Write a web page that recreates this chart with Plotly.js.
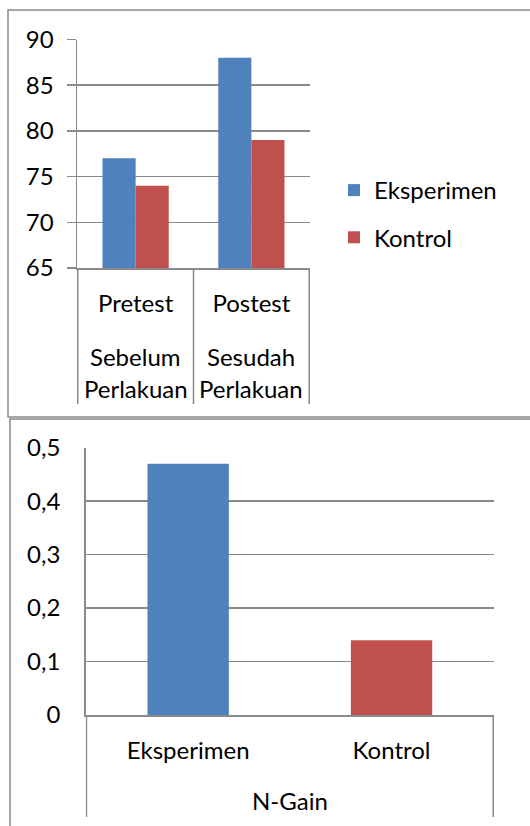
<!DOCTYPE html>
<html>
<head>
<meta charset="utf-8">
<script src="https://cdn.plot.ly/plotly-3.0.1.min.js"></script>
<style>html,body{margin:0;padding:0;background:#fff;}#chart{width:530px;height:826px;}</style>
</head>
<body>
<div id="chart"></div>
<script>
// ---- data ----
const testCategories = ["Pretest", "Postest"];
const testSubLabels = ["Sebelum Perlakuan", "Sesudah Perlakuan"];
const seriesNames = ["Eksperimen", "Kontrol"];
const eksperimenScores = [77, 88];
const kontrolScores = [74, 79];
const gainCategories = ["Eksperimen", "Kontrol"];
const gainValues = [0.47, 0.14];
const gainTitle = "N-Gain";

// ---- style ----
const W = 530, H = 826;
const px = v => v / W;
const py = v => 1 - v / H;
const BLUE = "#4F81BD", RED = "#C0504D";
const GRAY = "#8a8a8a";
const FONT = "Lato, 'Open Sans', sans-serif";
const FS = 24;

const traces = [
  { type: "bar", name: seriesNames[0], x: testCategories, y: eksperimenScores,
    marker: { color: BLUE }, xaxis: "x", yaxis: "y", legendgroup: "a" },
  { type: "bar", name: seriesNames[1], x: testCategories, y: kontrolScores,
    marker: { color: RED }, xaxis: "x", yaxis: "y", legendgroup: "b" },
  { type: "bar", name: gainTitle, x: gainCategories, y: gainValues,
    marker: { color: [BLUE, RED] }, width: 0.4, xaxis: "x2", yaxis: "y2", showlegend: false }
];

const annotations = [];
testSubLabels.forEach((lab, i) => {
  lab.split(" ").forEach((line, j) => {
    annotations.push({ xref: "x", yref: "paper", x: testCategories[i], y: py(356 + 32 * j),
      text: line, showarrow: false, xanchor: "center", yanchor: "middle",
      font: { family: FONT, size: FS, color: "#000" } });
  });
});
annotations.push({ xref: "x2 domain", yref: "paper", x: 0.5, y: py(800), text: gainTitle,
  showarrow: false, xanchor: "center", yanchor: "middle", font: { family: FONT, size: FS, color: "#000" } });

const lineStyle = { color: GRAY, width: 1.5 };
const shapes = [
  { type: "rect", xref: "paper", yref: "paper", x0: px(8), x1: 1.02, y0: py(417), y1: py(10), line: lineStyle },
  { type: "rect", xref: "paper", yref: "paper", x0: px(10), x1: 1.02, y0: -0.02, y1: py(419), line: lineStyle }
];
[-0.5, 0.5, 1.5].forEach(xv => shapes.push({ type: "line", xref: "x", yref: "paper",
  x0: xv, x1: xv, y0: py(404), y1: py(268), line: lineStyle }));
[-0.5, 1.5].forEach(xv => shapes.push({ type: "line", xref: "x2", yref: "paper",
  x0: xv, x1: xv, y0: py(817), y1: py(715), line: lineStyle }));

const layout = {
  width: W, height: H,
  margin: { l: 0, r: 0, t: 0, b: 0 },
  paper_bgcolor: "#fff", plot_bgcolor: "#fff",
  font: { family: FONT, size: FS, color: "#000" },
  separators: ",.",
  barmode: "group", bargap: 0.428, bargroupgap: 0,
  showlegend: true,
  legend: { x: px(334), y: py(214), xanchor: "left", yanchor: "middle",
    font: { family: FONT, size: FS, color: "#000" }, tracegroupgap: 13, bgcolor: "rgba(0,0,0,0)" },
  xaxis: { domain: [px(77), px(310)], anchor: "y", type: "category",
    showline: true, linecolor: GRAY, linewidth: 1.5, ticks: "", showgrid: false,
    ticklabelstandoff: 14, tickfont: { family: FONT, size: FS, color: "#000" }, fixedrange: true },
  yaxis: { domain: [py(268), py(39.5)], anchor: "x", range: [65, 90], tick0: 65, dtick: 5,
    showgrid: true, gridcolor: GRAY, gridwidth: 1.5, zeroline: false,
    showline: true, linecolor: GRAY, linewidth: 1.5,
    ticks: "outside", ticklen: 9, tickcolor: GRAY, tickwidth: 1.5, ticklabelstandoff: 8,
    tickfont: { family: FONT, size: FS, color: "#000" }, fixedrange: true },
  xaxis2: { domain: [px(85.7), px(494)], anchor: "y2", type: "category",
    showline: true, linecolor: GRAY, linewidth: 1.5, ticks: "", showgrid: false,
    ticklabelstandoff: 14, tickfont: { family: FONT, size: FS, color: "#000" }, fixedrange: true },
  yaxis2: { domain: [py(715), py(447.7)], anchor: "x2", range: [0, 0.5], tick0: 0, dtick: 0.1,
    showgrid: true, gridcolor: GRAY, gridwidth: 1.5, zeroline: false,
    showline: true, linecolor: GRAY, linewidth: 1.5, ticks: "", ticklabelstandoff: 19,
    tickfont: { family: FONT, size: FS, color: "#000" }, fixedrange: true },
  annotations: annotations,
  shapes: shapes
};

Plotly.newPlot("chart", traces, layout, { displayModeBar: false, staticPlot: true });
</script>
</body>
</html>
